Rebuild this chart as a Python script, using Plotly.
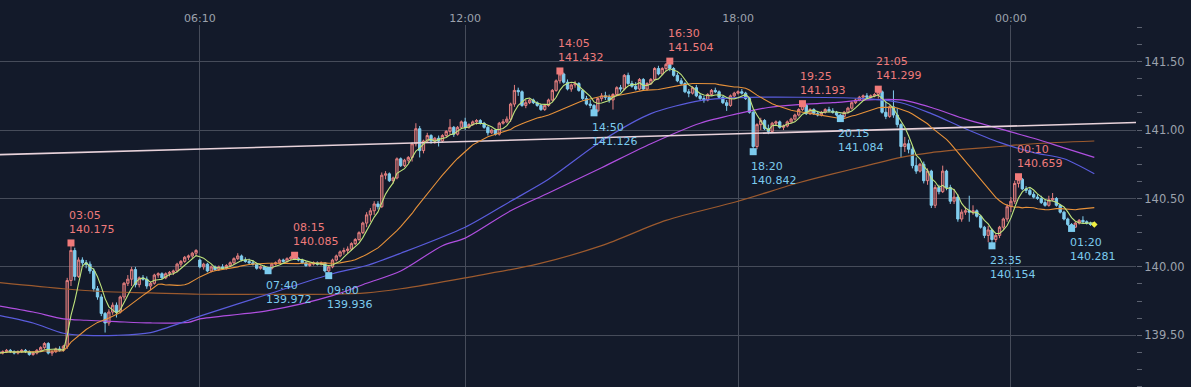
import plotly.graph_objects as go
import pandas as pd

# ---------------- data (5-minute bars) ----------------
opens = [
    139.38,
    139.37, 139.38, 139.39, 139.38, 139.37, 139.38, 139.39, 139.38, 139.36, 139.37,
    139.39, 139.41, 139.44, 139.37, 139.38, 139.40, 139.39, 139.42, 139.90, 140.12,
    139.93, 140.05, 140.03, 140.02, 139.97, 139.84, 139.78, 139.66, 139.59, 139.67,
    139.72, 139.67, 139.78, 139.88, 139.91, 139.98, 139.87, 139.92, 139.91, 139.86,
    139.88, 139.94, 139.95, 139.92, 139.95, 139.96, 139.97, 140.02, 140.04, 140.07,
    140.08, 140.10, 140.05, 140.00, 140.02, 139.97, 140.00, 139.98, 140.00, 139.99,
    140.01, 140.03, 140.06, 140.08, 140.05, 140.04, 140.03, 140.02, 139.99, 140.00,
    139.98, 139.99, 140.02, 140.03, 140.05, 140.04, 140.06, 140.07, 140.06, 140.05,
    140.03, 140.01, 140.02, 140.03, 140.02, 140.03, 139.97, 140.00, 140.05, 140.08,
    140.11, 140.12, 140.13, 140.17, 140.20, 140.25, 140.32, 140.38, 140.41, 140.46,
    140.44, 140.67, 140.68, 140.63, 140.65, 140.79, 140.74, 140.78, 140.80, 140.90,
    141.01, 140.85, 140.92, 140.96, 140.92, 140.94, 140.92, 140.96, 140.99, 141.02,
    140.97, 141.02, 141.06, 141.02, 141.04, 141.06, 141.07, 141.05, 141.02, 140.98,
    141.00, 140.97, 141.05, 141.06, 141.08, 141.19, 141.29, 141.28, 141.18, 141.20,
    141.22, 141.20, 141.18, 141.15, 141.18, 141.22, 141.29, 141.36, 141.41, 141.35,
    141.30, 141.33, 141.34, 141.29, 141.23, 141.19, 141.18, 141.14, 141.23, 141.25,
    141.24, 141.22, 141.26, 141.31, 141.30, 141.40, 141.34, 141.32, 141.30, 141.37,
    141.30, 141.34, 141.37, 141.45, 141.41, 141.45, 141.48, 141.45, 141.40, 141.36,
    141.34, 141.28, 141.27, 141.31, 141.25, 141.23, 141.22, 141.26, 141.29, 141.28,
    141.24, 141.20, 141.18, 141.25, 141.27, 141.28, 141.27, 141.23, 141.13, 140.88,
    141.04, 141.07, 141.01, 140.99, 141.05, 141.06, 141.02, 141.03, 141.06, 141.08,
    141.11, 141.15, 141.18, 141.12, 141.15, 141.12, 141.11, 141.13, 141.15, 141.14,
    141.13, 141.11, 141.10, 141.13, 141.16, 141.20, 141.22, 141.24, 141.25, 141.24,
    141.25, 141.26, 141.28, 141.13, 141.10, 141.17, 141.11, 141.04, 140.88, 140.90,
    140.86, 140.74, 140.70, 140.75, 140.63, 140.70, 140.45, 140.58, 140.55, 140.70,
    140.58, 140.48, 140.51, 140.35, 140.40, 140.41, 140.40, 140.41, 140.37, 140.29,
    140.23, 140.27, 140.20, 140.23, 140.29, 140.35, 140.44, 140.48, 140.61, 140.64,
    140.57, 140.56, 140.53, 140.51, 140.50, 140.47, 140.45, 140.49, 140.50, 140.45,
    140.40, 140.35, 140.31, 140.29, 140.32, 140.34, 140.33, 140.32, 140.31,
]
highs = [
    139.39,
    139.39, 139.40, 139.40, 139.39, 139.39, 139.40, 139.40, 139.39, 139.38, 139.40,
    139.42, 139.45, 139.45, 139.39, 139.41, 139.42, 139.43, 139.92, 140.175, 140.14,
    140.07, 140.07, 140.05, 140.04, 139.99, 139.86, 139.80, 139.67, 139.69, 139.74,
    139.74, 139.79, 139.89, 139.94, 140.00, 140.00, 139.93, 139.94, 139.93, 139.89,
    139.95, 139.96, 139.96, 139.96, 139.97, 139.98, 140.03, 140.05, 140.08, 140.09,
    140.11, 140.13, 140.06, 140.03, 140.03, 140.01, 140.01, 140.01, 140.02, 140.02,
    140.04, 140.07, 140.10, 140.09, 140.07, 140.06, 140.05, 140.03, 140.01, 140.01,
    140.00, 140.03, 140.04, 140.06, 140.06, 140.07, 140.08, 140.085, 140.07, 140.06,
    140.04, 140.03, 140.04, 140.04, 140.04, 140.03, 140.01, 140.06, 140.09, 140.12,
    140.14, 140.15, 140.18, 140.21, 140.26, 140.33, 140.40, 140.43, 140.48, 140.48,
    140.69, 140.70, 140.69, 140.66, 140.80, 140.80, 140.79, 140.81, 140.91, 141.05,
    141.03, 140.93, 140.98, 140.97, 140.95, 140.96, 140.97, 141.00, 141.08, 141.03,
    141.03, 141.07, 141.09, 141.05, 141.07, 141.08, 141.08, 141.06, 141.03, 141.01,
    141.01, 141.06, 141.08, 141.10, 141.20, 141.33, 141.31, 141.29, 141.22, 141.23,
    141.23, 141.21, 141.19, 141.19, 141.23, 141.30, 141.37, 141.432, 141.42, 141.37,
    141.34, 141.36, 141.35, 141.30, 141.25, 141.22, 141.19, 141.24, 141.27, 141.28,
    141.26, 141.27, 141.32, 141.33, 141.41, 141.42, 141.36, 141.35, 141.38, 141.38,
    141.35, 141.38, 141.46, 141.47, 141.46, 141.49, 141.504, 141.46, 141.42, 141.38,
    141.35, 141.30, 141.32, 141.33, 141.27, 141.25, 141.27, 141.30, 141.31, 141.29,
    141.25, 141.22, 141.26, 141.28, 141.29, 141.30, 141.28, 141.24, 141.15, 141.05,
    141.09, 141.08, 141.04, 141.06, 141.07, 141.07, 141.04, 141.07, 141.09, 141.12,
    141.16, 141.193, 141.19, 141.16, 141.16, 141.14, 141.14, 141.16, 141.17, 141.16,
    141.14, 141.12, 141.14, 141.17, 141.21, 141.23, 141.25, 141.26, 141.27, 141.26,
    141.27, 141.299, 141.29, 141.21, 141.18, 141.29, 141.16, 141.05, 140.95, 140.93,
    140.88, 140.80, 140.76, 140.77, 140.72, 140.71, 140.60, 140.60, 140.74, 140.71,
    140.60, 140.57, 140.53, 140.42, 140.44, 140.52, 140.45, 140.42, 140.38, 140.30,
    140.30, 140.28, 140.24, 140.30, 140.36, 140.46, 140.51, 140.63, 140.659, 140.65,
    140.59, 140.58, 140.55, 140.53, 140.52, 140.49, 140.52, 140.54, 140.51, 140.46,
    140.41, 140.36, 140.32, 140.33, 140.35, 140.37, 140.34, 140.33, 140.32,
]
lows = [
    139.36,
    139.36, 139.37, 139.37, 139.36, 139.36, 139.37, 139.37, 139.35, 139.35, 139.36,
    139.38, 139.40, 139.36, 139.35, 139.37, 139.38, 139.38, 139.40, 139.86, 139.90,
    139.92, 140.01, 139.99, 139.95, 139.82, 139.76, 139.64, 139.52, 139.57, 139.65,
    139.63, 139.66, 139.76, 139.86, 139.86, 139.85, 139.85, 139.90, 139.84, 139.83,
    139.87, 139.92, 139.91, 139.91, 139.93, 139.94, 139.96, 140.00, 140.03, 140.05,
    140.06, 140.08, 139.99, 139.98, 139.96, 139.96, 139.97, 139.97, 139.98, 139.98,
    140.00, 140.02, 140.05, 140.04, 140.03, 140.02, 140.01, 139.98, 139.98, 139.98,
    139.972, 139.98, 140.01, 140.02, 140.03, 140.03, 140.05, 140.05, 140.04, 140.02,
    140.00, 140.00, 140.01, 140.01, 140.01, 139.96, 139.936, 139.99, 140.04, 140.07,
    140.09, 140.10, 140.12, 140.16, 140.19, 140.24, 140.29, 140.33, 140.38, 140.42,
    140.43, 140.64, 140.62, 140.61, 140.64, 140.73, 140.73, 140.76, 140.77, 140.88,
    140.80, 140.83, 140.91, 140.90, 140.90, 140.88, 140.91, 140.95, 140.97, 140.95,
    140.96, 141.01, 141.00, 141.01, 141.03, 141.04, 141.04, 141.01, 140.96, 140.97,
    140.96, 140.96, 141.04, 141.05, 141.06, 141.17, 141.25, 141.17, 141.16, 141.19,
    141.19, 141.17, 141.14, 141.14, 141.17, 141.21, 141.28, 141.34, 141.34, 141.29,
    141.28, 141.31, 141.28, 141.22, 141.18, 141.16, 141.126, 141.13, 141.21, 141.22,
    141.20, 141.15, 141.25, 141.28, 141.29, 141.33, 141.31, 141.29, 141.29, 141.29,
    141.29, 141.33, 141.36, 141.40, 141.40, 141.43, 141.43, 141.39, 141.35, 141.33,
    141.27, 141.24, 141.26, 141.24, 141.22, 141.20, 141.21, 141.25, 141.27, 141.23,
    141.19, 141.14, 141.17, 141.24, 141.26, 141.26, 141.22, 141.12, 140.842, 140.86,
    141.00, 141.00, 140.97, 140.98, 141.03, 141.01, 141.00, 141.02, 141.05, 141.07,
    141.10, 141.14, 141.11, 141.11, 141.11, 141.10, 141.10, 141.12, 141.13, 141.12,
    141.10, 141.084, 141.09, 141.12, 141.15, 141.19, 141.21, 141.22, 141.23, 141.23,
    141.24, 141.23, 141.12, 141.08, 141.09, 141.09, 141.02, 140.80, 140.84, 140.83,
    140.72, 140.68, 140.69, 140.61, 140.60, 140.43, 140.43, 140.53, 140.54, 140.56,
    140.46, 140.46, 140.33, 140.33, 140.38, 140.33, 140.38, 140.36, 140.28, 140.21,
    140.18, 140.154, 140.18, 140.21, 140.27, 140.33, 140.40, 140.46, 140.58, 140.56,
    140.54, 140.52, 140.50, 140.49, 140.46, 140.44, 140.44, 140.48, 140.44, 140.39,
    140.34, 140.30, 140.281, 140.285, 140.31, 140.32, 140.31, 140.30, 140.30,
]
closes = [
    139.37,
    139.38, 139.39, 139.38, 139.37, 139.38, 139.39, 139.38, 139.36, 139.37, 139.39,
    139.41, 139.44, 139.37, 139.38, 139.40, 139.39, 139.42, 139.90, 140.12, 139.93,
    140.05, 140.03, 140.02, 139.97, 139.84, 139.78, 139.66, 139.59, 139.67, 139.72,
    139.67, 139.78, 139.88, 139.91, 139.98, 139.87, 139.92, 139.91, 139.86, 139.88,
    139.94, 139.95, 139.92, 139.95, 139.96, 139.97, 140.02, 140.04, 140.07, 140.08,
    140.10, 140.12, 140.00, 140.02, 139.97, 140.00, 139.98, 140.00, 139.99, 140.01,
    140.03, 140.06, 140.08, 140.05, 140.04, 140.03, 140.02, 139.99, 140.00, 139.98,
    139.99, 140.02, 140.03, 140.05, 140.04, 140.06, 140.07, 140.06, 140.05, 140.03,
    140.01, 140.02, 140.03, 140.02, 140.03, 139.97, 140.00, 140.05, 140.08, 140.11,
    140.12, 140.13, 140.17, 140.20, 140.25, 140.32, 140.38, 140.41, 140.46, 140.44,
    140.67, 140.68, 140.63, 140.65, 140.79, 140.74, 140.78, 140.80, 140.90, 141.01,
    140.85, 140.92, 140.96, 140.92, 140.94, 140.92, 140.96, 140.99, 141.02, 140.97,
    141.02, 141.06, 141.02, 141.04, 141.06, 141.07, 141.05, 141.02, 140.98, 141.00,
    140.97, 141.05, 141.06, 141.08, 141.19, 141.29, 141.28, 141.18, 141.20, 141.22,
    141.20, 141.18, 141.15, 141.18, 141.22, 141.29, 141.36, 141.41, 141.35, 141.30,
    141.33, 141.34, 141.29, 141.23, 141.19, 141.18, 141.14, 141.23, 141.25, 141.24,
    141.22, 141.26, 141.31, 141.30, 141.40, 141.34, 141.32, 141.30, 141.37, 141.30,
    141.34, 141.37, 141.45, 141.41, 141.45, 141.48, 141.45, 141.40, 141.36, 141.34,
    141.28, 141.27, 141.31, 141.25, 141.23, 141.22, 141.26, 141.29, 141.28, 141.24,
    141.20, 141.18, 141.25, 141.27, 141.28, 141.27, 141.23, 141.13, 140.88, 141.04,
    141.07, 141.01, 140.99, 141.05, 141.06, 141.02, 141.03, 141.06, 141.08, 141.11,
    141.15, 141.18, 141.12, 141.15, 141.12, 141.11, 141.13, 141.15, 141.14, 141.13,
    141.11, 141.10, 141.13, 141.16, 141.20, 141.22, 141.24, 141.25, 141.24, 141.25,
    141.26, 141.28, 141.13, 141.10, 141.17, 141.11, 141.04, 140.88, 140.90, 140.86,
    140.74, 140.70, 140.75, 140.63, 140.70, 140.45, 140.58, 140.55, 140.70, 140.58,
    140.48, 140.51, 140.35, 140.40, 140.41, 140.40, 140.41, 140.37, 140.29, 140.23,
    140.27, 140.20, 140.23, 140.29, 140.35, 140.44, 140.48, 140.61, 140.64, 140.57,
    140.56, 140.53, 140.51, 140.50, 140.47, 140.45, 140.49, 140.50, 140.45, 140.40,
    140.35, 140.31, 140.29, 140.32, 140.34, 140.33, 140.32, 140.31, 140.31,
]

# bar times (market break between 05:50 and 06:10)
times = pd.date_range("2024-05-01 01:30", "2024-05-01 05:50", freq="5min").append(
    pd.date_range("2024-05-01 06:10", "2024-05-02 01:50", freq="5min"))

x_tick_labels = ["06:10", "12:00", "18:00", "00:00"]

# long moving averages (75, 100, 200 period)
ma75_times = ["05-01 01:30", "05-01 02:15", "05-01 02:55", "05-01 03:25", "05-01 04:05",
              "05-01 04:50", "05-01 05:40", "05-01 06:10", "05-01 07:40", "05-01 09:05",
              "05-01 09:50", "05-01 10:35", "05-01 12:00", "05-01 13:00", "05-01 13:50",
              "05-01 15:00", "05-01 16:05", "05-01 17:10", "05-01 18:00", "05-01 19:20",
              "05-01 20:50", "05-01 21:35", "05-01 22:15", "05-01 23:00", "05-01 23:45",
              "05-02 00:30", "05-02 01:10", "05-02 01:50"]
ma75_vals = [139.645, 139.59, 139.515, 139.50, 139.50,
             139.52, 139.61, 139.64, 139.80, 139.95,
             140.01, 140.10, 140.29, 140.48, 140.64,
             140.92, 141.12, 141.215, 141.237, 141.24,
             141.23, 141.20, 141.12, 141.01, 140.91,
             140.835, 140.79, 140.68]

ma100_times = ["05-01 01:30", "05-01 02:15", "05-01 02:55", "05-01 03:25", "05-01 04:05",
               "05-01 04:50", "05-01 05:40", "05-01 06:10", "05-01 07:40", "05-01 09:05",
               "05-01 09:50", "05-01 10:35", "05-01 11:30", "05-01 12:00", "05-01 13:00",
               "05-01 13:50", "05-01 15:00", "05-01 16:05", "05-01 17:10", "05-01 18:00",
               "05-01 18:40", "05-01 19:20", "05-01 20:05", "05-01 20:50", "05-01 21:35",
               "05-01 22:15", "05-01 23:00", "05-01 23:45", "05-02 00:30", "05-02 01:10",
               "05-02 01:50"]
ma100_vals = [139.715, 139.67, 139.62, 139.61, 139.60,
              139.59, 139.595, 139.62, 139.68, 139.79,
              139.88, 139.97, 140.155, 140.21, 140.41,
              140.54, 140.725, 140.90, 141.05, 141.12,
              141.165, 141.186, 141.20, 141.22, 141.22,
              141.165, 141.08, 141.01, 140.94, 140.87,
              140.80]

ma200_times = ["05-01 01:30", "05-01 02:55", "05-01 03:45", "05-01 04:50", "05-01 06:10",
               "05-01 07:40", "05-01 09:05", "05-01 09:50", "05-01 10:35", "05-01 12:00",
               "05-01 13:35", "05-01 15:00", "05-01 16:25", "05-01 18:00", "05-01 19:20",
               "05-01 20:05", "05-01 20:50", "05-01 21:35", "05-01 22:15", "05-01 23:00",
               "05-01 23:45", "05-02 00:30", "05-02 01:50"]
ma200_vals = [139.885, 139.84, 139.82, 139.81, 139.80,
              139.80, 139.80, 139.81, 139.84, 139.92,
              140.02, 140.155, 140.34, 140.48, 140.615,
              140.68, 140.74, 140.80, 140.835, 140.86,
              140.88, 140.90, 140.92]

# straight trend line (start / end of visible window)
trend_times = ["05-01 01:30", "05-02 02:45"]
trend_vals = [140.82, 141.055]

# marked highs / lows
peak_times = ["05-01 03:05", "05-01 08:15", "05-01 14:05", "05-01 16:30",
              "05-01 19:25", "05-01 21:05", "05-02 00:10"]
peak_vals = [140.175, 140.085, 141.432, 141.504, 141.193, 141.299, 140.659]
peak_text = ["03:05", "08:15", "14:05", "16:30", "19:25", "21:05", "00:10"]

trough_times = ["05-01 07:40", "05-01 09:00", "05-01 14:50", "05-01 18:20",
                "05-01 20:15", "05-01 23:35", "05-02 01:20"]
trough_vals = [139.972, 139.936, 141.126, 140.842, 141.084, 140.154, 140.281]
trough_text = ["07:40", "09:00", "14:50", "18:20", "20.15", "23:35", "01:20"]

# ---------------- styling ----------------
BG = "#131a2a"
GRID = "#464c5a"
TICK = "#5c6270"
LABEL = "#9ca2ad"
UP = "#e57f7f"
UP_FILL = "rgba(229,127,127,0.32)"
DOWN = "#80cdee"
HI_C = "#ef7b7b"
LO_C = "#7ccbee"
FONT = "DejaVu Sans"

N = len(closes)
xs = list(range(N))
pos = {t: i for i, t in enumerate(times)}


def to_x(stamp):
    t = pd.Timestamp("2024-" + stamp)
    if t in pos:
        return pos[t]
    # beyond the last bar: extend on the 5-minute grid
    return N - 1 + (t - times[-1]) / pd.Timedelta("5min")


labels = [t.strftime("%H:%M") for t in times]
tickvals = [labels.index(l) for l in x_tick_labels]

close_s = pd.Series(closes)
ma5 = close_s.rolling(5, min_periods=1).mean()
ma25 = close_s.rolling(25, min_periods=1).mean()

fig = go.Figure()

fig.add_trace(go.Scatter(x=[to_x(t) for t in ma200_times], y=ma200_vals, mode="lines",
                         line=dict(color="#9c5a2e", width=1.2, shape="spline", smoothing=0.8),
                         hoverinfo="skip"))
fig.add_trace(go.Scatter(x=[to_x(t) for t in ma100_times], y=ma100_vals, mode="lines",
                         line=dict(color="#b04fe0", width=1.2, shape="spline", smoothing=0.8),
                         hoverinfo="skip"))
fig.add_trace(go.Scatter(x=[to_x(t) for t in ma75_times], y=ma75_vals, mode="lines",
                         line=dict(color="#5a5cdc", width=1.2, shape="spline", smoothing=0.8),
                         hoverinfo="skip"))
fig.add_trace(go.Scatter(x=[to_x(t) for t in trend_times], y=trend_vals, mode="lines",
                         line=dict(color="#e8d2da", width=1.6), hoverinfo="skip"))

fig.add_trace(go.Candlestick(
    x=xs, open=opens, high=highs, low=lows, close=closes,
    increasing=dict(line=dict(color=UP, width=1), fillcolor=UP_FILL),
    decreasing=dict(line=dict(color=DOWN, width=1), fillcolor=DOWN),
    whiskerwidth=0, hoverinfo="skip"))

fig.add_trace(go.Scatter(x=xs, y=ma25, mode="lines",
                         line=dict(color="#e8923a", width=1.1), hoverinfo="skip"))
fig.add_trace(go.Scatter(x=xs, y=ma5, mode="lines",
                         line=dict(color="#bfe47c", width=1.1), hoverinfo="skip"))

# last price marker
fig.add_trace(go.Scatter(x=[xs[-1]], y=[closes[-1]], mode="markers",
                         marker=dict(color="#f0f040", size=5, symbol="diamond"),
                         hoverinfo="skip"))

px_ = [to_x(t) for t in peak_times]
tx_ = [to_x(t) for t in trough_times]
fig.add_trace(go.Scatter(x=px_, y=peak_vals, mode="markers",
                         marker=dict(color="#f07a7a", size=7, symbol="square"), hoverinfo="skip"))
fig.add_trace(go.Scatter(x=tx_, y=trough_vals, mode="markers",
                         marker=dict(color="#7ccbee", size=7, symbol="square"), hoverinfo="skip"))

for x, v, t in zip(px_, peak_vals, peak_text):
    fig.add_annotation(x=x, y=v, text=f"{t}<br>{v:.3f}", showarrow=False,
                       xanchor="left", yanchor="bottom", align="left",
                       xshift=-4, yshift=5, font=dict(family=FONT, size=11, color=HI_C))
for x, v, t in zip(tx_, trough_vals, trough_text):
    fig.add_annotation(x=x, y=v, text=f"{t}<br>{v:.3f}", showarrow=False,
                       xanchor="left", yanchor="top", align="left",
                       xshift=-4, yshift=-6, font=dict(family=FONT, size=11, color=LO_C))

fig.update_layout(
    width=1191, height=387,
    margin=dict(l=0, r=55, t=25, b=0),
    paper_bgcolor=BG, plot_bgcolor=BG,
    showlegend=False,
    boxgap=0.12,
    font=dict(family=FONT, size=11, color=LABEL),
)
fig.update_xaxes(
    range=[0.27, 300.0], tickmode="array", tickvals=tickvals, ticktext=x_tick_labels,
    side="top", showgrid=True, gridcolor=GRID, gridwidth=1, zeroline=False,
    showline=False, ticks="", rangeslider_visible=False,
    tickfont=dict(family=FONT, size=11, color=LABEL),
)
fig.update_yaxes(
    range=[139.122, 141.768], side="right", tickmode="linear", tick0=139.5, dtick=0.5,
    tickformat=".2f", showgrid=True, gridcolor=GRID, gridwidth=1, zeroline=False,
    showline=False, ticks="outside", ticklen=5, tickcolor=TICK,
    minor=dict(tickmode="linear", tick0=139.5, dtick=0.125, ticks="outside",
               ticklen=5, tickcolor=TICK, showgrid=False),
    tickfont=dict(family=FONT, size=11.5, color=LABEL),
)

fig.write_html(
    "out.html",
    config={"displayModeBar": False, "staticPlot": True},
    post_script="document.body.style.margin='0';document.body.style.overflow='hidden';"
                "document.body.style.background='" + BG + "';",
)
